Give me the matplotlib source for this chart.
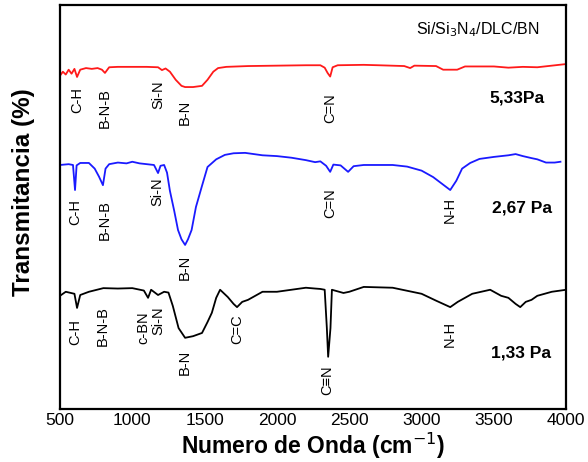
import matplotlib.pyplot as plt

plt.rcParams['font.family'] = ['Liberation Sans', 'DejaVu Sans']

# espectros FTIR (numero de onda, transmitancia relativa)
wn_533 = [500, 520, 540, 560, 580, 600, 618, 640, 680, 720, 760, 790, 811, 840, 900, 1000,
          1100, 1178, 1205, 1230, 1260, 1300, 1340, 1365, 1420, 1482, 1520, 1560, 1593, 1650,
          1800, 2000, 2200, 2300, 2330, 2350, 2368, 2385, 2420, 2600, 2700, 2880, 2921, 2950,
          3100, 3149, 3200, 3246, 3300, 3500, 3600, 3700, 3800, 3900, 4000]
t_533 = [82.5, 83.5, 82.8, 84.0, 83.0, 84.2, 82.2, 84.0, 84.4, 84.2, 84.4, 84.0, 83.2, 84.6,
         84.7, 84.7, 84.7, 84.6, 83.9, 84.3, 83.5, 81.5, 80.0, 79.7, 79.7, 80.0, 81.5, 83.5,
         84.4, 84.7, 84.9, 85.0, 85.1, 85.1, 84.5, 83.2, 82.3, 84.6, 85.1, 85.2, 85.1, 84.9,
         84.4, 85.0, 84.9, 84.0, 84.0, 84.0, 84.8, 84.8, 84.5, 84.7, 84.6, 85.0, 85.4]

wn_267 = [500, 560, 590, 604, 615, 640, 700, 740, 770, 797, 815, 840, 900, 960, 1000, 1050,
          1100, 1150, 1178, 1195, 1220, 1240, 1260, 1290, 1316, 1340, 1365, 1385, 1410, 1440,
          1480, 1520, 1580, 1640, 1700, 1780, 1900, 2000, 2100, 2200, 2264, 2300, 2340, 2368,
          2390, 2440, 2492, 2530, 2600, 2800, 2900, 3000, 3080, 3150, 3198, 3240, 3280, 3336,
          3400, 3500, 3600, 3650, 3700, 3760, 3800, 3860, 3920, 3960]
t_267 = [60.4, 60.6, 60.4, 54.2, 60.3, 60.9, 60.9, 59.5, 57.5, 55.4, 59.5, 60.6, 61.0, 60.8,
         61.2, 60.8, 60.6, 60.4, 58.4, 60.2, 60.4, 58.5, 54.0, 49.0, 44.3, 42.0, 40.6, 42.0,
         44.3, 50.0, 55.0, 59.9, 61.8, 62.9, 63.3, 63.4, 62.8, 62.6, 62.2, 61.6, 61.1, 61.3,
         60.2, 58.7, 60.5, 60.3, 58.7, 60.1, 60.4, 60.4, 60.0, 59.0, 57.4, 55.5, 54.2, 56.5,
         59.5, 60.9, 61.9, 62.4, 62.8, 63.1, 62.6, 62.1, 61.8, 61.0, 61.0, 61.2]

wn_133 = [500, 540, 600, 618, 640, 700, 800, 900, 1000, 1080, 1109, 1130, 1178, 1220, 1250,
          1280, 1320, 1365, 1420, 1482, 1520, 1550, 1580, 1607, 1660, 1700, 1724, 1760, 1800,
          1900, 2000, 2100, 2200, 2264, 2300, 2330, 2345, 2354, 2370, 2380, 2400, 2460, 2500,
          2600, 2800, 3000, 3100, 3198, 3250, 3350, 3474, 3550, 3600, 3650, 3682, 3720, 3760,
          3800, 3850, 3900, 4000]
t_133 = [28.0, 29.0, 28.5, 25.0, 28.2, 29.0, 29.9, 29.8, 29.9, 29.3, 27.5, 29.5, 28.2, 29.0,
         28.8, 25.5, 20.0, 17.6, 18.0, 18.8, 21.5, 23.8, 27.5, 29.5, 27.7, 26.0, 25.2, 26.5,
         27.0, 29.0, 29.0, 29.5, 30.0, 29.8, 29.7, 29.5, 20.0, 12.9, 20.0, 29.5, 29.3, 28.7,
         29.0, 30.2, 30.0, 28.5, 26.8, 25.2, 26.5, 28.5, 29.5, 28.0, 27.5, 26.0, 25.2, 26.5,
         27.0, 28.0, 28.5, 29.0, 29.5]

# atribuciones de bandas: (posicion, altura del texto, etiqueta)
bands_533 = [(618, 76.5, 'C-H'), (811, 74.5, 'B-N-B'), (1178, 77.7, 'Si-N'),
             (1365, 73.5, 'B-N'), (2368, 74.5, 'C=N')]
bands_267 = [(604, 48.8, 'C-H'), (811, 46.8, 'B-N-B'), (1171, 53.7, 'Si-N'),
             (1365, 35.1, 'B-N'), (2368, 51.0, 'C=N'), (3198, 49.3, 'N-H')]
bands_133 = [(604, 19.1, 'C-H'), (797, 20.5, 'B-N-B'), (1074, 20.0, 'c-BN'),
             (1178, 21.8, 'Si-N'), (1365, 11.4, 'B-N'), (1724, 19.8, 'C=C'),
             (2347, 7.2, 'C\u2261N'), (3198, 18.6, 'N-H')]

fig = plt.figure(figsize=(5.88, 4.62), dpi=100)
ax = fig.add_axes([0.102, 0.115, 0.861, 0.874])

ax.plot(wn_533, t_533, color='#ff1a1a', lw=1.3)
ax.plot(wn_267, t_267, color='#1a1aff', lw=1.3)
ax.plot(wn_133, t_133, color='black', lw=1.3)

for bands in (bands_533, bands_267, bands_133):
    for x, y, lab in bands:
        ax.text(x, y, lab, rotation=90, ha='center', va='center', fontsize=10.5)

ax.text(3661, 77.0, '5,33Pa', fontsize=12.5, fontweight='bold', ha='center', va='center')
ax.text(3696, 49.8, '2,67 Pa', fontsize=12.5, fontweight='bold', ha='center', va='center')
ax.text(3689, 13.8, '1,33 Pa', fontsize=12.5, fontweight='bold', ha='center', va='center')
ax.text(3390, 93.8, 'Si/Si$_3$N$_4$/DLC/BN', fontsize=11.5, ha='center', va='center')

ax.set_xlim(500, 4000)
ax.set_ylim(0, 100)
ax.set_xticks([500, 1000, 1500, 2000, 2500, 3000, 3500, 4000])
ax.set_yticks([])
ax.tick_params(axis='x', length=0, labelsize=12.5, pad=3)
for s in ax.spines.values():
    s.set_linewidth(1.6)

ax.set_xlabel('Numero de Onda (cm$^{-1}$)', fontsize=16.5, fontweight='bold', labelpad=2)
ax.set_ylabel('Transmitancia (%)', fontsize=17.5, fontweight='bold')
ax.yaxis.set_label_coords(-0.05, 0.537)

fig.savefig('out.png', dpi=100)
